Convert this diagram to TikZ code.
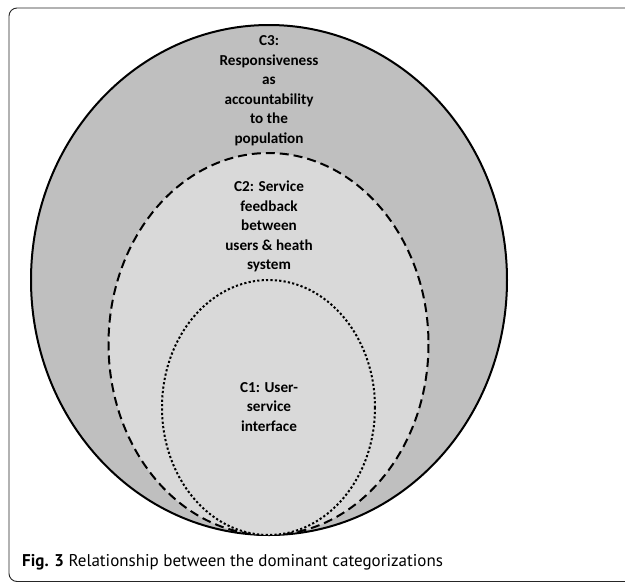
\documentclass[tikz,border=0pt]{standalone}
\usepackage{fontspec}
\setmainfont{Carlito}
\newfontfamily\capfont{PT Sans}
\definecolor{outergray}{HTML}{BFBFBF}
\definecolor{innergray}{HTML}{D9D9D9}

\begin{document}
\begin{tikzpicture}[x=1pt, y=-1pt]
  \tikzstyle{ring} = [line width=2pt, draw=black]
  \tikzstyle{label} = [align=center, font=\fontsize{15.2}{19.5}\selectfont\bfseries, inner sep=0pt]
  \useasboundingbox (0,0) rectangle (625,582);
  \clip (0,0) rectangle (625,582);
  \fill[white] (0,0) rectangle (625,582);
  \draw[rounded corners=8pt, line width=0.9pt, draw=black!85] (9,8) rectangle (660,581.5);
  \filldraw[ring, fill=outergray] (269,280) ellipse [x radius=238, y radius=255];
  \filldraw[ring, fill=innergray, dash pattern=on 9pt off 5pt] (268.5,344) ellipse [x radius=160, y radius=191];
  \filldraw[ring, fill=innergray, dash pattern=on 2.2pt off 2.2pt] (268.5,407.5) ellipse [x radius=106.5, y radius=127.5];
  \node[label] (c3) at (269,90.5) {C3:\\Responsiveness\\as\\accountability\\to the\\population};
  \node[label] (c2) at (269,226.5) {C2: Service\\feedback\\between\\users \& heath\\system};
  \node[label] (c1) at (269,407) {C1: User-\\service\\interface};
  \node[anchor=base west, inner sep=0pt, font=\capfont\fontsize{17}{20}\selectfont] (caption) at (22,566.5)
    {\textbf{Fig. 3} Relationship between the dominant categorizations};
\end{tikzpicture}
\end{document}
